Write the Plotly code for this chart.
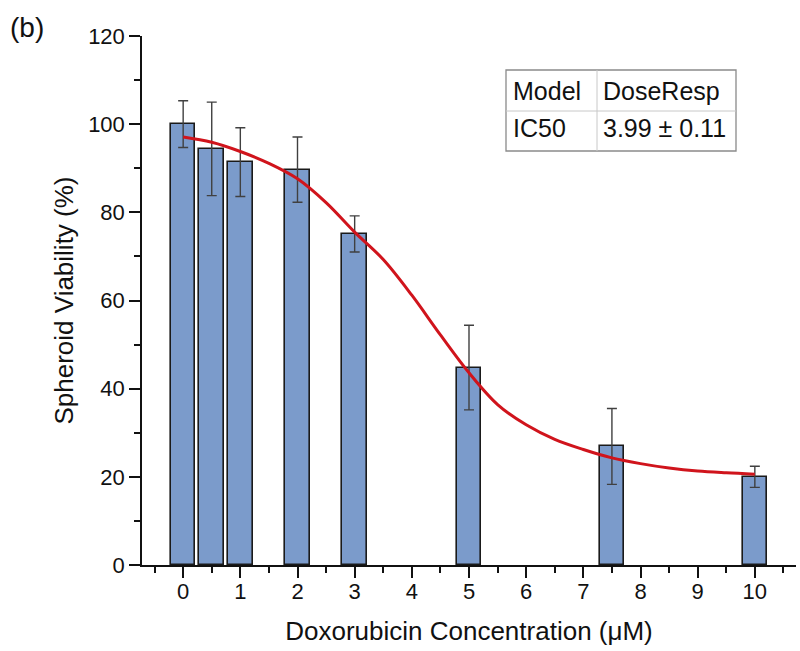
import plotly.graph_objects as go

# ---- data ----
conc = [0, 0.5, 1, 2, 3, 5, 7.5, 10]
viability = [100.0, 94.4, 91.4, 89.7, 75.1, 44.8, 26.9, 20.0]
viability_err = [5.3, 10.6, 7.8, 7.4, 4.1, 9.6, 8.6, 2.4]

fit_x = [0, 0.5, 1, 1.5, 2, 2.5, 3, 3.5, 4, 4.5, 5, 5.5, 6, 6.5, 7, 7.5, 8, 8.5, 9, 9.5, 10]
fit_y = [97.1, 95.9, 93.8, 91.1, 87.6, 82.2, 75.5, 69.3, 61.2, 52.2, 43.6, 36.4, 31.8, 28.5,
         26.2, 24.3, 23.0, 22.0, 21.3, 20.9, 20.6]

x_ticks = list(range(0, 11))
y_ticks = [0, 20, 40, 60, 80, 100, 120]

table_rows = [["Model", "DoseResp"], ["IC50", "3.99 \u00b1 0.11"]]

FONT = "Liberation Sans, Arial, sans-serif"

fig = go.Figure()
fig.add_trace(go.Bar(
    x=conc, y=viability, width=0.43,
    marker=dict(color="#7b9bcb", line=dict(color="#1a1a1a", width=1.6)),
    error_y=dict(type="data", array=viability_err, visible=True,
                 color="#404040", thickness=1.4, width=5),
    showlegend=False, hoverinfo="x+y",
))
fig.add_trace(go.Scatter(
    x=fit_x, y=fit_y, mode="lines", line=dict(color="#d0141c", width=3, shape="spline"),
    showlegend=False,
))

W, H = 800, 651
L, R, T, B = 142, 4, 36, 86
pw, ph = W - L - R, H - T - B

def px(xp):
    return (xp - L) / pw

def py(yp):
    return (H - B - yp) / ph

shapes = []
# table box
x0, x1, xm = 506, 736, 597
y0, y1, ym = 70, 151, 111
line_style = dict(color="#8a8a8a", width=1.3)
shapes.append(dict(type="rect", xref="paper", yref="paper", x0=px(x0), x1=px(x1),
                   y0=py(y1), y1=py(y0), line=line_style, fillcolor="white", layer="above"))
shapes.append(dict(type="line", xref="paper", yref="paper", x0=px(x0), x1=px(x1),
                   y0=py(ym), y1=py(ym), line=dict(color="#c8c8c8", width=1), layer="above"))
shapes.append(dict(type="line", xref="paper", yref="paper", x0=px(xm), x1=px(xm),
                   y0=py(y1), y1=py(y0), line=dict(color="#c8c8c8", width=1), layer="above"))

annotations = []
cell_x = [(x0 + 5, "left"), (xm + 4, "left")]
row_y = [91, 128]
for r, row in enumerate(table_rows):
    for c, txt in enumerate(row):
        xx, anc = cell_x[c]
        annotations.append(dict(text=txt, xref="paper", yref="paper", x=px(xx), y=py(row_y[r]),
                                xanchor=anc, yanchor="middle", showarrow=False,
                                font=dict(family=FONT, size=25, color="#111")))
annotations.append(dict(text="(b)", xref="paper", yref="paper", x=px(8), y=py(27),
                        xanchor="left", yanchor="middle", showarrow=False,
                        font=dict(family=FONT, size=28, color="#111")))

fig.update_layout(
    width=W, height=H,
    margin=dict(l=L, r=R, t=T, b=B, pad=0),
    paper_bgcolor="white", plot_bgcolor="white",
    font=dict(family=FONT, color="#111"),
    bargap=0,
    shapes=shapes, annotations=annotations,
    xaxis=dict(
        range=[-0.72, 10.72], tickmode="array", tickvals=x_ticks,
        ticktext=[str(v) for v in x_ticks],
        ticks="outside", ticklen=11, tickwidth=1.5, tickcolor="#111",
        minor=dict(dtick=0.5, tick0=0.5, ticks="outside", ticklen=6, tickwidth=1.5, tickcolor="#111"),
        showline=True, linecolor="#111", linewidth=1.5,
        showgrid=False, zeroline=False,
        tickfont=dict(size=22, family=FONT),
        ticklabelstandoff=-5,
        title=dict(text="Doxorubicin Concentration (\u03bcM)", font=dict(size=26, family=FONT), standoff=19),
    ),
    yaxis=dict(
        range=[0, 120], tickmode="array", tickvals=y_ticks,
        ticks="outside", ticklen=11, tickwidth=1.5, tickcolor="#111",
        minor=dict(dtick=10, tick0=0, ticks="outside", ticklen=6, tickwidth=1.5, tickcolor="#111"),
        showline=True, linecolor="#111", linewidth=1.5,
        showgrid=False, zeroline=False,
        tickfont=dict(size=22, family=FONT),
        title=dict(text="Spheroid Viability (%)", font=dict(size=26, family=FONT), standoff=7),
    ),
)

fig.write_html("out.html")
